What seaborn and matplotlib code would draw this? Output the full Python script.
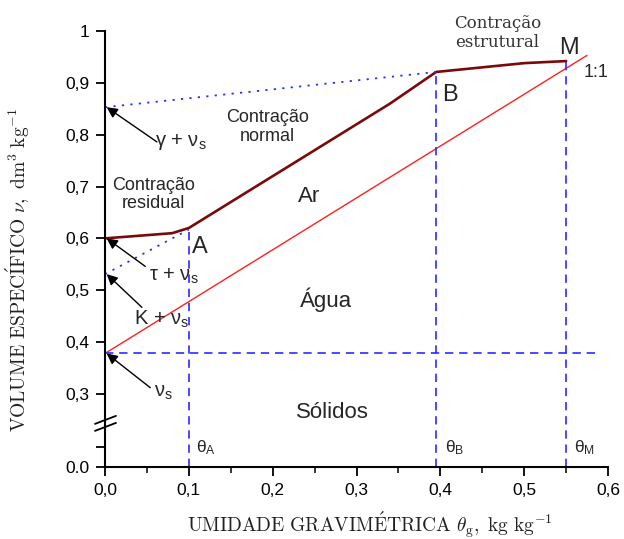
import matplotlib
matplotlib.use("Agg")
import matplotlib.pyplot as plt
import seaborn as sns
import pandas as pd

# ---- data ----
theta_curve = [0.0, 0.08, 0.10, 0.34, 0.395, 0.50, 0.55]
v_curve = [0.600, 0.610, 0.620, 0.860, 0.921, 0.938, 0.942]
theta_line = [0.0, 0.575]
v_line = [0.378, 0.953]
v_s = 0.378
theta_A, theta_B, theta_M = 0.10, 0.395, 0.55
v_A, v_B, v_M = 0.620, 0.921, 0.942
gamma_v = 0.853
K_v = 0.531
tau_v = 0.600
xticks = [0.0, 0.1, 0.2, 0.3, 0.4, 0.5, 0.6]
xticklabels = ["0,0", "0,1", "0,2", "0,3", "0,4", "0,5", "0,6"]
yticks = [0.159, 0.198, 0.3, 0.4, 0.5, 0.6, 0.7, 0.8, 0.9, 1.0]
yticklabels = ["0.0", "", "0,3", "0,4", "0,5", "0,6", "0,7", "0,8", "0,9", "1"]

sns.set_style("ticks")
plt.rcParams["font.family"] = ["Liberation Sans", "DejaVu Sans"]
plt.rcParams["mathtext.fontset"] = "custom"
plt.rcParams["mathtext.rm"] = "Liberation Sans"
plt.rcParams["mathtext.it"] = "Liberation Sans:italic"

fig = plt.figure(figsize=(6.24, 5.39), dpi=100)
ax = fig.add_axes([105/624, 1-467/539, (608-105)/624, (467-31)/539])

BLUE = "#2b2bff"
df_c = pd.DataFrame({"t": theta_curve, "v": v_curve})
df_l = pd.DataFrame({"t": theta_line, "v": v_line})
sns.lineplot(data=df_c, x="t", y="v", ax=ax, color="#7a0a0a", lw=1.9, sort=False)
sns.lineplot(data=df_l, x="t", y="v", ax=ax, color="#ff2020", lw=1.0, sort=False)

ybot = 0.159
dash = (0, (5, 3.5))
# dashed guides
ax.plot([0, 0.585], [v_s, v_s], color=BLUE, lw=1.2, ls=dash)
for th, vv in [(theta_A, v_A), (theta_B, v_B), (theta_M, v_M)]:
    ax.plot([th, th], [ybot, vv], color=BLUE, lw=1.2, ls=dash)
# dotted lines
ax.plot([0, theta_B], [gamma_v, v_B], color=BLUE, lw=1.3, ls=(0, (1.2, 3.5)))
ax.plot([0, theta_A], [K_v, 0.617], color=BLUE, lw=1.3, ls=(0, (1.2, 3.5)))

ax.set_xlim(0, 0.6)
ax.set_ylim(ybot, 1.0)
ax.set_xticks(xticks)
ax.set_xticklabels(xticklabels)
ax.set_xticks([0.05, 0.15, 0.25, 0.35, 0.45, 0.55], minor=True)
ax.set_yticks(yticks)
ax.set_yticklabels(yticklabels)
ax.tick_params(axis="both", which="major", direction="out", length=6.5, width=1.3,
               labelsize=12.5, pad=5, color="black", labelcolor="black")
ax.tick_params(axis="x", which="minor", direction="out", length=4, width=1.1, color="black")
ax.set_xlabel("")
ax.set_ylabel("")
for s in ["top", "right"]:
    ax.spines[s].set_visible(False)
for s in ["left", "bottom"]:
    ax.spines[s].set_linewidth(1.5)
    ax.spines[s].set_color("black")

# axis break marks
ax.plot([-0.0119, 0.0131], [0.2422, 0.2576], color="black", lw=1.3, clip_on=False)
ax.plot([-0.0119, 0.0131], [0.2287, 0.2441], color="black", lw=1.3, clip_on=False)

# arrows + labels
ap = dict(arrowstyle="-|>", color="black", lw=1.0, mutation_scale=16, shrinkA=0, shrinkB=0)
ax.annotate("", xy=(0.002, gamma_v), xytext=(0.062, 0.786), arrowprops=ap, annotation_clip=False)
ax.annotate("", xy=(0.002, tau_v), xytext=(0.048, 0.546), arrowprops=ap, annotation_clip=False)
ax.annotate("", xy=(0.002, K_v), xytext=(0.044, 0.467), arrowprops=ap, annotation_clip=False)
ax.annotate("", xy=(0.002, v_s), xytext=(0.054, 0.312), arrowprops=ap, annotation_clip=False)

fs = 14.5
ax.text(0.091, 0.786, "γ + ν$_\\mathrm{s}$", fontsize=fs, ha="center", va="center")
ax.text(0.082, 0.526, "τ + ν$_\\mathrm{s}$", fontsize=fs, ha="center", va="center")
ax.text(0.068, 0.443, "K + ν$_\\mathrm{s}$", fontsize=fs, ha="center", va="center")
ax.text(0.070, 0.303, "ν$_\\mathrm{s}$", fontsize=fs, ha="center", va="center")

ax.text(0.194, 0.815, "Contração\nnormal", fontsize=13, ha="center", va="center", linespacing=1.1)
ax.text(0.058, 0.684, "Contração\nresidual", fontsize=13, ha="center", va="center", linespacing=1.1)
ax.text(0.468, 0.996, "Contração\nestrutural", fontsize=12, ha="center", va="center",
        family="DejaVu Serif", color="#333333", linespacing=1.1)

ax.text(0.554, 0.967, "M", fontsize=17, ha="center", va="center")
ax.text(0.411, 0.877, "B", fontsize=17, ha="center", va="center")
ax.text(0.113, 0.583, "A", fontsize=17, ha="center", va="center")
ax.text(0.586, 0.919, "1:1", fontsize=13, ha="center", va="center")
ax.text(0.244, 0.680, "Ar", fontsize=16, ha="center", va="center")
ax.text(0.263, 0.481, "Água", fontsize=16, ha="center", va="center")
ax.text(0.271, 0.265, "Sólidos", fontsize=16, ha="center", va="center")

ax.text(0.108, 0.196, "θ$_\\mathrm{A}$", fontsize=12.5, ha="left", va="center")
ax.text(0.405, 0.196, "θ$_\\mathrm{B}$", fontsize=12.5, ha="left", va="center")
ax.text(0.560, 0.196, "θ$_\\mathrm{M}$", fontsize=12.5, ha="left", va="center")

fig.text(0.593, 0.026, r"$\mathrm{UMIDADE\ GRAVIM\acute{E}TRICA}\ \theta_\mathrm{g},\ \mathrm{kg\ kg^{-1}}$",
         fontsize=14, ha="center", va="center", math_fontfamily="cm", color="#222222")
fig.text(0.029, 0.499, r"$\mathrm{VOLUME\ ESPEC\acute{I}FICO}\ \nu,\ \mathrm{dm^3\ kg^{-1}}$",
         fontsize=14, ha="center", va="center", rotation=90, math_fontfamily="cm", color="#222222")

fig.savefig("out.png", dpi=100)
